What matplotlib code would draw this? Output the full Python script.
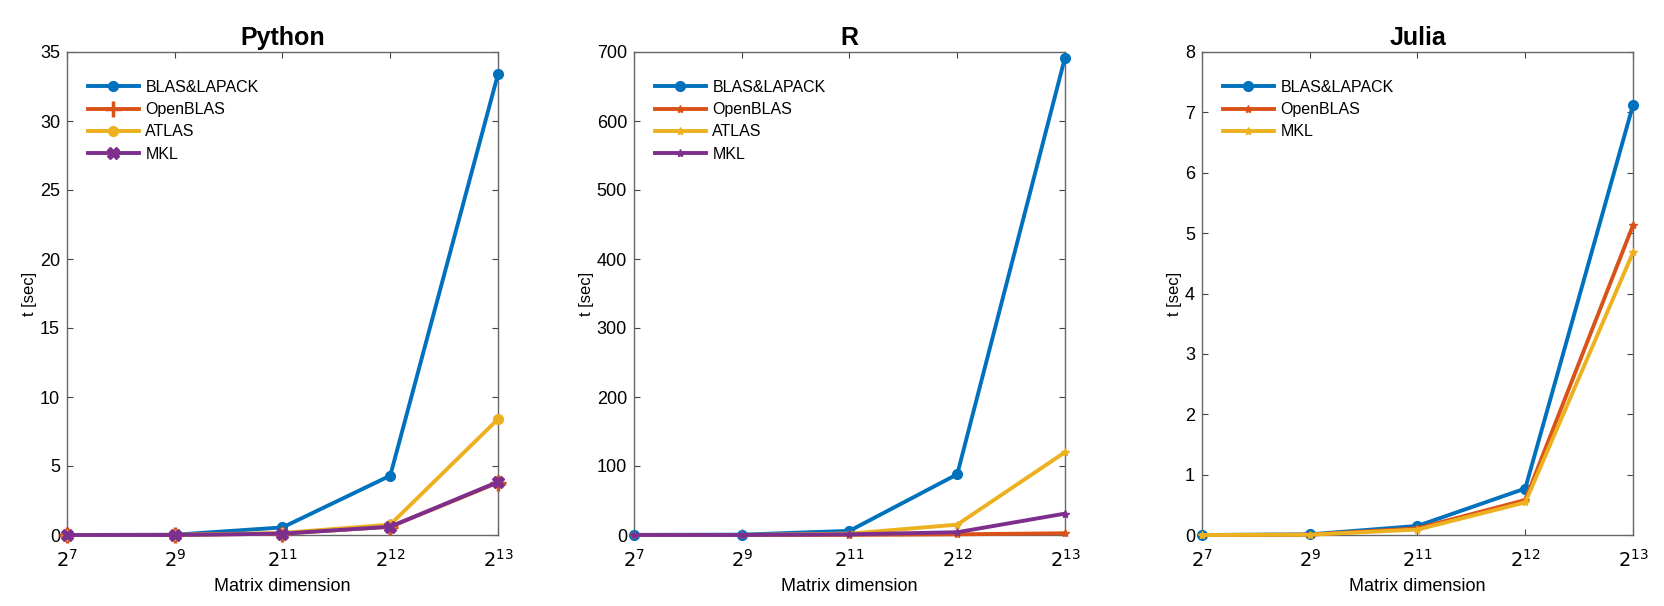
import matplotlib
matplotlib.use("Agg")
import matplotlib.pyplot as plt

plt.rcParams["font.family"] = ["Liberation Sans", "DejaVu Sans"]

# x 轴类别（矩阵维度）
dims = ["$2^{7}$", "$2^{9}$", "$2^{11}$", "$2^{12}$", "$2^{13}$"]

# Python
py_blas = [0.0, 0.02, 0.55, 4.3, 33.4]
py_openblas = [0.0, 0.0, 0.1, 0.6, 3.8]
py_atlas = [0.0, 0.01, 0.15, 0.75, 8.4]
py_mkl = [0.0, 0.0, 0.1, 0.6, 3.85]

# R
r_blas = [0.2, 0.5, 6.0, 88.0, 692.0]
r_openblas = [0.0, 0.0, 0.2, 1.0, 2.5]
r_atlas = [0.0, 0.1, 2.0, 15.0, 120.0]
r_mkl = [0.0, 0.0, 1.0, 4.0, 31.0]

# Julia
jl_blas = [0.0, 0.01, 0.15, 0.77, 7.12]
jl_openblas = [0.0, 0.005, 0.11, 0.58, 5.13]
jl_mkl = [0.0, 0.005, 0.09, 0.54, 4.68]

blue, red, yellow, purple = "#0072BD", "#D95319", "#EDB120", "#7E2F8E"

fig = plt.figure(figsize=(16.65, 6.06), dpi=100)
lefts = [67, 634, 1202]
axes = [fig.add_axes([l / 1665, 71 / 606, 431 / 1665, 483 / 606]) for l in lefts]
x = list(range(len(dims)))


def style(ax, title, ymax, ystep):
    ax.set_title(title, fontsize=18, fontweight="bold", pad=5)
    ax.set_xlim(0, 4)
    ax.set_ylim(0, ymax)
    ax.set_xticks(x)
    ax.set_xticklabels(dims, fontsize=14)
    ax.set_yticks(range(0, ymax + 1, ystep))
    ax.tick_params(axis="y", labelsize=13, pad=5)
    ax.tick_params(axis="x", pad=10)
    ax.tick_params(direction="in", top=True, right=True, length=4, color="#444444")
    ax.set_xlabel("Matrix dimension", fontsize=13, labelpad=5)
    ax.set_ylabel("t [sec]", fontsize=12, labelpad=2)
    for s in ax.spines.values():
        s.set_color("#666666")
        s.set_linewidth(1.0)
    ax.legend(loc="upper left", bbox_to_anchor=(0.0, 0.985), frameon=False,
              fontsize=11.5, handlelength=3.2, borderaxespad=0.9,
              labelspacing=0.45, handletextpad=0.4)


lw = 2.8
ax = axes[0]
ax.plot(x, py_blas, color=blue, lw=lw, marker="o", ms=7, label="BLAS&LAPACK", clip_on=False, zorder=5)
ax.plot(x, py_openblas, color=red, lw=lw, marker="+", ms=11, mew=2.5, label="OpenBLAS", clip_on=False, zorder=5)
ax.plot(x, py_atlas, color=yellow, lw=lw, marker="o", ms=7, label="ATLAS", clip_on=False, zorder=5)
ax.plot(x, py_mkl, color=purple, lw=lw, marker="X", ms=8, label="MKL", clip_on=False, zorder=5)
style(ax, "Python", 35, 5)

ax = axes[1]
ax.plot(x, r_blas, color=blue, lw=lw, marker="o", ms=7, label="BLAS&LAPACK", clip_on=False, zorder=5)
ax.plot(x, r_openblas, color=red, lw=lw, marker="*", ms=6, label="OpenBLAS", clip_on=False, zorder=5)
ax.plot(x, r_atlas, color=yellow, lw=lw, marker="*", ms=6, label="ATLAS", clip_on=False, zorder=5)
ax.plot(x, r_mkl, color=purple, lw=lw, marker="*", ms=6, label="MKL", clip_on=False, zorder=5)
style(ax, "R", 700, 100)

ax = axes[2]
ax.plot(x, jl_blas, color=blue, lw=lw, marker="o", ms=7, label="BLAS&LAPACK", clip_on=False, zorder=5)
ax.plot(x, jl_openblas, color=red, lw=lw, marker="*", ms=6, label="OpenBLAS", clip_on=False, zorder=5)
ax.plot(x, jl_mkl, color=yellow, lw=lw, marker="*", ms=6, label="MKL", clip_on=False, zorder=5)
style(ax, "Julia", 8, 1)

fig.savefig("out.png", dpi=100)
